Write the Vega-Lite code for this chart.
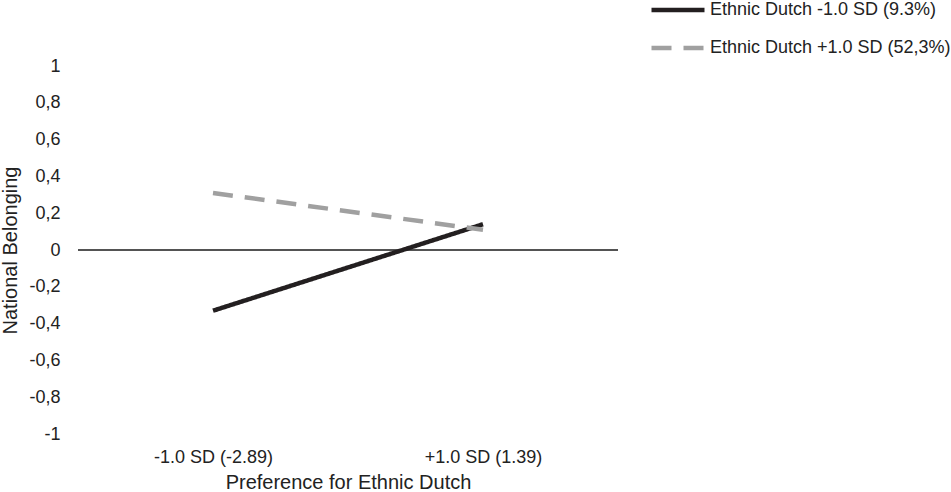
{
  "$schema": "https://vega.github.io/schema/vega-lite/v6.json",
  "autosize": "none",
  "padding": {"left": 78, "top": 66, "right": 333, "bottom": 58},
  "width": 540,
  "height": 368,
  "background": "white",
  "config": {
    "view": {"stroke": null},
    "font": "Liberation Sans",
    "axis": {"labelOverlap": false}
  },
  "datasets": {
    "lines": [
      {"pref": "-1.0 SD (-2.89)", "group": "Ethnic Dutch -1.0 SD (9.3%)", "belonging": -0.33},
      {"pref": "+1.0 SD (1.39)", "group": "Ethnic Dutch -1.0 SD (9.3%)", "belonging": 0.14},
      {"pref": "-1.0 SD (-2.89)", "group": "Ethnic Dutch +1.0 SD (52,3%)", "belonging": 0.31},
      {"pref": "+1.0 SD (1.39)", "group": "Ethnic Dutch +1.0 SD (52,3%)", "belonging": 0.11}
    ],
    "zero": [{"belonging": 0}]
  },
  "encoding": {
    "y": {
      "field": "belonging", "type": "quantitative",
      "scale": {"domain": [-1, 1], "nice": false},
      "axis": {
        "title": "National Belonging",
        "titleFontSize": 20, "titleFontWeight": "normal", "titleColor": "#222",
        "titlePadding": 8,
        "values": [-1, -0.8, -0.6, -0.4, -0.2, 0, 0.2, 0.4, 0.6, 0.8, 1],
        "labelExpr": "replace(toString(datum.value), '.', ',')",
        "labelFontSize": 18, "labelColor": "#222", "labelPadding": 18,
        "labelOverlap": false,
        "domain": false, "ticks": false, "tickSize": 0, "grid": false
      }
    }
  },
  "layer": [
    {
      "data": {"name": "zero"},
      "mark": {"type": "rule", "stroke": "#1a1a1a", "strokeWidth": 1.3},
      "encoding": {}
    },
    {
      "data": {"name": "lines"},
      "mark": {"type": "line", "strokeWidth": 4.5, "strokeCap": "butt"},
      "encoding": {
        "x": {
          "field": "pref", "type": "ordinal",
          "sort": ["-1.0 SD (-2.89)", "+1.0 SD (1.39)"],
          "scale": {"type": "point", "padding": 0.5},
          "axis": {
            "title": "Preference for Ethnic Dutch",
            "titleFontSize": 20, "titleFontWeight": "normal", "titleColor": "#222",
            "titlePadding": 6,
            "labelAngle": 0, "labelFontSize": 18, "labelColor": "#222", "labelPadding": 14,
            "labelOverlap": false,
            "domain": false, "ticks": false, "tickSize": 0, "grid": false
          }
        },
        "color": {
          "field": "group", "type": "nominal",
          "sort": ["Ethnic Dutch -1.0 SD (9.3%)", "Ethnic Dutch +1.0 SD (52,3%)"],
          "scale": {"domain": ["Ethnic Dutch -1.0 SD (9.3%)", "Ethnic Dutch +1.0 SD (52,3%)"], "range": ["#231f20", "#a0a0a0"]},
          "legend": {
            "title": null,
            "orient": "none", "legendX": 571, "legendY": -85,
            "symbolType": "stroke", "symbolSize": 2809, "symbolStrokeWidth": 4.5,
            "labelFontSize": 18, "labelColor": "#222", "labelOffset": 3, "labelLimit": 400,
            "rowPadding": -23, "padding": 0
          }
        },
        "strokeDash": {
          "field": "group", "type": "nominal",
          "sort": ["Ethnic Dutch -1.0 SD (9.3%)", "Ethnic Dutch +1.0 SD (52,3%)"],
          "scale": {"domain": ["Ethnic Dutch -1.0 SD (9.3%)", "Ethnic Dutch +1.0 SD (52,3%)"], "range": [[1, 0], [20, 12]]},
          "legend": {
            "title": null,
            "orient": "none", "legendX": 571, "legendY": -85,
            "symbolType": "stroke", "symbolSize": 2809, "symbolStrokeWidth": 4.5,
            "labelFontSize": 18, "labelColor": "#222", "labelOffset": 3, "labelLimit": 400,
            "rowPadding": -23, "padding": 0
          }
        }
      }
    }
  ]
}
